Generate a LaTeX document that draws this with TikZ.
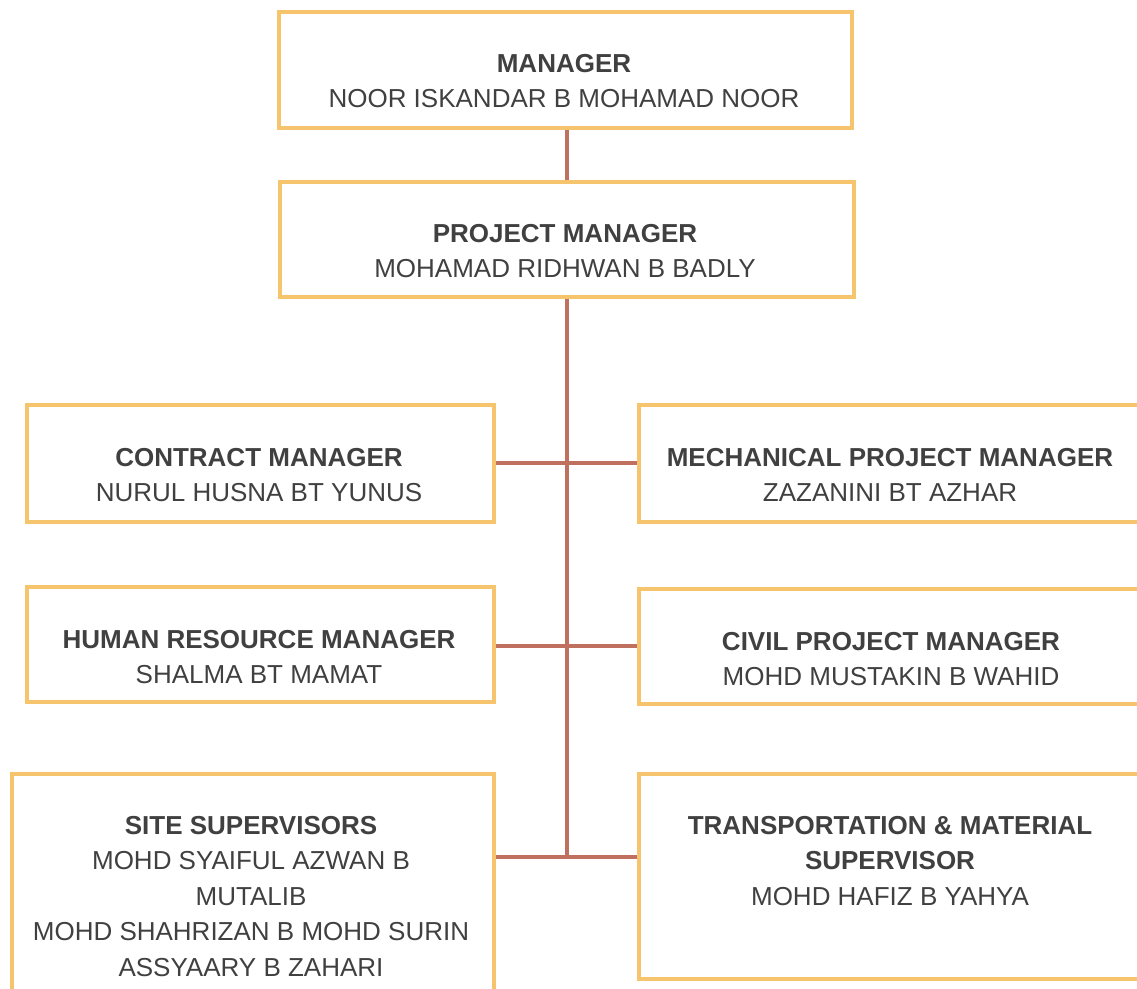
\documentclass[tikz,border=0pt]{standalone}
\usepackage{fontspec}
\setmainfont{Liberation Sans}
\definecolor{boxline}{HTML}{F5C46C}
\definecolor{conline}{HTML}{C0705E}
\definecolor{txt}{HTML}{404040}
\begin{document}
\begin{tikzpicture}[x=1pt,y=1pt,
  orgbox/.style={draw=boxline, line width=3.5pt, fill=white, minimum width=#1, inner sep=0pt, anchor=north west},
  orgtext/.style={anchor=north, inner sep=0pt, align=center, text=txt, font=\fontsize{26}{35.5}\selectfont},
  conn/.style={draw=conline, line width=3.5pt}]
\useasboundingbox (0,0) rectangle (1137,-988);
% boxes
\node[orgbox=573pt, minimum height=116pt] (man) at (277,-10) {};
\node[orgbox=574pt, minimum height=115pt] (pm) at (278,-180) {};
\node[orgbox=467pt, minimum height=117pt] (cm) at (25,-403) {};
\node[orgbox=506pt, minimum height=117pt] (mech) at (637,-403) {};
\node[orgbox=467pt, minimum height=115pt] (hr) at (25,-585) {};
\node[orgbox=506pt, minimum height=115pt] (civ) at (637,-587) {};
\node[orgbox=482pt, minimum height=228pt] (site) at (10,-772) {};
\node[orgbox=506pt, minimum height=205pt] (trans) at (637,-772) {};
% texts
\node[orgtext] (tman) at (564,-54) {\textbf{MANAGER}\\NOOR ISKANDAR B MOHAMAD NOOR};
\node[orgtext] (tpm) at (565,-224) {\textbf{PROJECT MANAGER}\\MOHAMAD RIDHWAN B BADLY};
\node[orgtext] (tcm) at (259,-448) {\textbf{CONTRACT MANAGER}\\NURUL HUSNA BT YUNUS};
\node[orgtext] (tmech) at (890,-448) {\textbf{MECHANICAL PROJECT MANAGER}\\ZAZANINI BT AZHAR};
\node[orgtext] (thr) at (259,-630) {\textbf{HUMAN RESOURCE MANAGER}\\SHALMA BT MAMAT};
\node[orgtext] (tciv) at (891,-632) {\textbf{CIVIL PROJECT MANAGER}\\MOHD MUSTAKIN B WAHID};
\node[orgtext] (tsite) at (251,-816) {\textbf{SITE SUPERVISORS}\\MOHD SYAIFUL AZWAN B\\MUTALIB\\MOHD SHAHRIZAN B MOHD SURIN\\ASSYAARY B ZAHARI};
\node[orgtext] (ttrans) at (890,-816) {\textbf{TRANSPORTATION \& MATERIAL}\\\textbf{SUPERVISOR}\\MOHD HAFIZ B YAHYA};
% connectors
\coordinate (jx) at (567,0);
\coordinate (j1) at (567,-463);
\coordinate (j2) at (567,-646);
\coordinate (j3) at (567,-857);
\draw[conn] (man.south -| jx) -- (pm.north -| jx);
\draw[conn] (pm.south -| jx) -- (j3);
\draw[conn] (cm.east |- j1) -- (mech.west |- j1);
\draw[conn] (hr.east |- j2) -- (civ.west |- j2);
\draw[conn] (site.east |- j3) -- (trans.west |- j3);
\end{tikzpicture}
\end{document}
